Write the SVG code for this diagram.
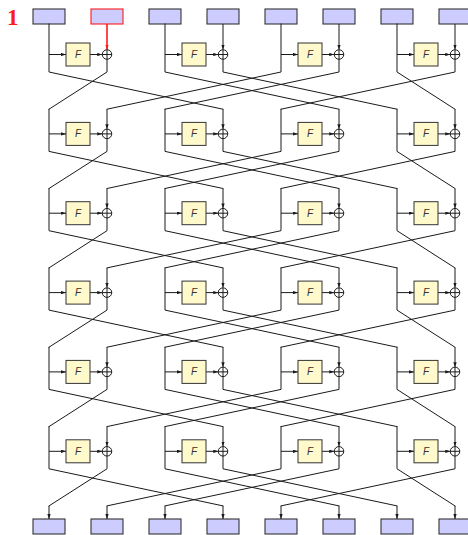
<svg xmlns="http://www.w3.org/2000/svg" width="468" height="535" viewBox="0 0 468 535">
<style>
.blk{fill:#ccccff;stroke:#333;stroke-width:1.1}
.red{fill:#ccccff;stroke:#ff1a1a;stroke-width:1.1}
.fb{fill:#fff9cc;stroke:#333;stroke-width:1}
.ft{font-family:"Liberation Sans",Arial,sans-serif;font-style:italic;font-size:10px;fill:#333;text-anchor:middle}
.w{fill:none;stroke:#1a1a1a;stroke-width:1;stroke-linejoin:round;stroke-linecap:round}
.a{fill:none;stroke:#1a1a1a;stroke-width:1;marker-end:url(#ah)}
.ar{fill:none;stroke:#ff1a1a;stroke-width:1.6;marker-end:url(#ahr)}
.xc{fill:#fff;stroke:#1a1a1a;stroke-width:1}
</style>
<defs>
<marker id="ah" viewBox="0 0 6 4" refX="6" refY="2" markerWidth="5" markerHeight="3.4" markerUnits="userSpaceOnUse" orient="auto"><path d="M0,0L6,2L0,4z" fill="#1a1a1a"/></marker>
<marker id="ahr" viewBox="0 0 6 4" refX="6" refY="2" markerWidth="5" markerHeight="3.6" markerUnits="userSpaceOnUse" orient="auto"><path d="M0,0L6,2L0,4z" fill="#ff1a1a"/></marker>
<g id="xor"><circle class="xc" cx="0" cy="0" r="4.75"/><path d="M-4.75,0H4.75M0,-4.75V4.75" stroke="#1a1a1a" stroke-width="1"/></g>
</defs>

<text x="7" y="25" font-family="'Liberation Serif','Times New Roman',serif" font-weight="bold" font-size="23" fill="#ff1a1a">1</text>

<g id="inputs">
<g id="in0"><rect class="blk" x="33" y="9" width="32" height="15"/></g>
<g id="in1"><rect class="red" x="91" y="9" width="32" height="15"/></g>
<g id="in2"><rect class="blk" x="149" y="9" width="32" height="15"/></g>
<g id="in3"><rect class="blk" x="207" y="9" width="32" height="15"/></g>
<g id="in4"><rect class="blk" x="265" y="9" width="32" height="15"/></g>
<g id="in5"><rect class="blk" x="323" y="9" width="32" height="15"/></g>
<g id="in6"><rect class="blk" x="381" y="9" width="32" height="15"/></g>
<g id="in7"><rect class="blk" x="439" y="9" width="32" height="15"/></g>
</g>

<g id="outputs">
<g id="out0"><rect class="blk" x="33" y="519" width="32" height="15"/></g>
<g id="out1"><rect class="blk" x="91" y="519" width="32" height="15"/></g>
<g id="out2"><rect class="blk" x="149" y="519" width="32" height="15"/></g>
<g id="out3"><rect class="blk" x="207" y="519" width="32" height="15"/></g>
<g id="out4"><rect class="blk" x="265" y="519" width="32" height="15"/></g>
<g id="out5"><rect class="blk" x="323" y="519" width="32" height="15"/></g>
<g id="out6"><rect class="blk" x="381" y="519" width="32" height="15"/></g>
<g id="out7"><rect class="blk" x="439" y="519" width="32" height="15"/></g>
</g>

<g id="connectors">
<!-- round 1 -->
<path class="w" d="M49 24V72L223 109.2M165 24V72L339 109.2M281 24V72L107 109.2M397 24V72L455 109.2"/>
<path class="w" d="M107 59.25V72L49 109.2M223 59.25V72L397 109.2M339 59.25V72L165 109.2M455 59.25V72L281 109.2"/>
<path class="ar" d="M107 24V49.75"/>
<path class="a" d="M223 24V49.75"/><path class="a" d="M339 24V49.75"/><path class="a" d="M455 24V49.75"/>
<path class="a" d="M49 54.5H66"/><path class="a" d="M165 54.5H182"/><path class="a" d="M281 54.5H298"/><path class="a" d="M397 54.5H414"/>
<path class="a" d="M90 54.5H102.25"/><path class="a" d="M206 54.5H218.25"/><path class="a" d="M322 54.5H334.25"/><path class="a" d="M438 54.5H450.25"/>
<!-- round 2 -->
<path class="w" d="M49 109.2V151.4L223 188.5M165 109.2V151.4L339 188.5M281 109.2V151.4L107 188.5M397 109.2V151.4L455 188.5"/>
<path class="w" d="M107 138.65V151.4L49 188.5M223 138.65V151.4L397 188.5M339 138.65V151.4L165 188.5M455 138.65V151.4L281 188.5"/>
<path class="a" d="M107 109.2V129.15"/><path class="a" d="M223 109.2V129.15"/><path class="a" d="M339 109.2V129.15"/><path class="a" d="M455 109.2V129.15"/>
<path class="a" d="M49 133.9H66"/><path class="a" d="M165 133.9H182"/><path class="a" d="M281 133.9H298"/><path class="a" d="M397 133.9H414"/>
<path class="a" d="M90 133.9H102.25"/><path class="a" d="M206 133.9H218.25"/><path class="a" d="M322 133.9H334.25"/><path class="a" d="M438 133.9H450.25"/>
<!-- round 3 -->
<path class="w" d="M49 188.5V230.7L223 267.9M165 188.5V230.7L339 267.9M281 188.5V230.7L107 267.9M397 188.5V230.7L455 267.9"/>
<path class="w" d="M107 217.95V230.7L49 267.9M223 217.95V230.7L397 267.9M339 217.95V230.7L165 267.9M455 217.95V230.7L281 267.9"/>
<path class="a" d="M107 188.5V208.45"/><path class="a" d="M223 188.5V208.45"/><path class="a" d="M339 188.5V208.45"/><path class="a" d="M455 188.5V208.45"/>
<path class="a" d="M49 213.2H66"/><path class="a" d="M165 213.2H182"/><path class="a" d="M281 213.2H298"/><path class="a" d="M397 213.2H414"/>
<path class="a" d="M90 213.2H102.25"/><path class="a" d="M206 213.2H218.25"/><path class="a" d="M322 213.2H334.25"/><path class="a" d="M438 213.2H450.25"/>
<!-- round 4 -->
<path class="w" d="M49 267.9V310.1L223 347.2M165 267.9V310.1L339 347.2M281 267.9V310.1L107 347.2M397 267.9V310.1L455 347.2"/>
<path class="w" d="M107 297.35V310.1L49 347.2M223 297.35V310.1L397 347.2M339 297.35V310.1L165 347.2M455 297.35V310.1L281 347.2"/>
<path class="a" d="M107 267.9V287.85"/><path class="a" d="M223 267.9V287.85"/><path class="a" d="M339 267.9V287.85"/><path class="a" d="M455 267.9V287.85"/>
<path class="a" d="M49 292.6H66"/><path class="a" d="M165 292.6H182"/><path class="a" d="M281 292.6H298"/><path class="a" d="M397 292.6H414"/>
<path class="a" d="M90 292.6H102.25"/><path class="a" d="M206 292.6H218.25"/><path class="a" d="M322 292.6H334.25"/><path class="a" d="M438 292.6H450.25"/>
<!-- round 5 -->
<path class="w" d="M49 347.2V389.4L223 426.6M165 347.2V389.4L339 426.6M281 347.2V389.4L107 426.6M397 347.2V389.4L455 426.6"/>
<path class="w" d="M107 376.65V389.4L49 426.6M223 376.65V389.4L397 426.6M339 376.65V389.4L165 426.6M455 376.65V389.4L281 426.6"/>
<path class="a" d="M107 347.2V367.15"/><path class="a" d="M223 347.2V367.15"/><path class="a" d="M339 347.2V367.15"/><path class="a" d="M455 347.2V367.15"/>
<path class="a" d="M49 371.9H66"/><path class="a" d="M165 371.9H182"/><path class="a" d="M281 371.9H298"/><path class="a" d="M397 371.9H414"/>
<path class="a" d="M90 371.9H102.25"/><path class="a" d="M206 371.9H218.25"/><path class="a" d="M322 371.9H334.25"/><path class="a" d="M438 371.9H450.25"/>
<!-- round 6 -->
<path class="w" d="M49 426.6V468.8L223 505.9M165 426.6V468.8L339 505.9M281 426.6V468.8L107 505.9M397 426.6V468.8L455 505.9"/>
<path class="w" d="M107 456.05V468.8L49 505.9M223 456.05V468.8L397 505.9M339 456.05V468.8L165 505.9M455 456.05V468.8L281 505.9"/>
<path class="a" d="M107 426.6V446.55"/><path class="a" d="M223 426.6V446.55"/><path class="a" d="M339 426.6V446.55"/><path class="a" d="M455 426.6V446.55"/>
<path class="a" d="M49 451.3H66"/><path class="a" d="M165 451.3H182"/><path class="a" d="M281 451.3H298"/><path class="a" d="M397 451.3H414"/>
<path class="a" d="M90 451.3H102.25"/><path class="a" d="M206 451.3H218.25"/><path class="a" d="M322 451.3H334.25"/><path class="a" d="M438 451.3H450.25"/>
<!-- outputs -->
<path class="a" d="M49 505.9V519"/><path class="a" d="M107 505.9V519"/><path class="a" d="M165 505.9V519"/><path class="a" d="M223 505.9V519"/>
<path class="a" d="M281 505.9V519"/><path class="a" d="M339 505.9V519"/><path class="a" d="M397 505.9V519"/><path class="a" d="M455 505.9V519"/>
</g>

<g id="functions">
<g id="f1a"><rect class="fb" x="66" y="43" width="24" height="23"/><text class="ft" x="78" y="58">F</text></g>
<g id="f1b"><rect class="fb" x="182" y="43" width="24" height="23"/><text class="ft" x="194" y="58">F</text></g>
<g id="f1c"><rect class="fb" x="298" y="43" width="24" height="23"/><text class="ft" x="310" y="58">F</text></g>
<g id="f1d"><rect class="fb" x="414" y="43" width="24" height="23"/><text class="ft" x="426" y="58">F</text></g>
<g id="f2a"><rect class="fb" x="66" y="122.4" width="24" height="23"/><text class="ft" x="78" y="137.4">F</text></g>
<g id="f2b"><rect class="fb" x="182" y="122.4" width="24" height="23"/><text class="ft" x="194" y="137.4">F</text></g>
<g id="f2c"><rect class="fb" x="298" y="122.4" width="24" height="23"/><text class="ft" x="310" y="137.4">F</text></g>
<g id="f2d"><rect class="fb" x="414" y="122.4" width="24" height="23"/><text class="ft" x="426" y="137.4">F</text></g>
<g id="f3a"><rect class="fb" x="66" y="201.7" width="24" height="23"/><text class="ft" x="78" y="216.7">F</text></g>
<g id="f3b"><rect class="fb" x="182" y="201.7" width="24" height="23"/><text class="ft" x="194" y="216.7">F</text></g>
<g id="f3c"><rect class="fb" x="298" y="201.7" width="24" height="23"/><text class="ft" x="310" y="216.7">F</text></g>
<g id="f3d"><rect class="fb" x="414" y="201.7" width="24" height="23"/><text class="ft" x="426" y="216.7">F</text></g>
<g id="f4a"><rect class="fb" x="66" y="281.1" width="24" height="23"/><text class="ft" x="78" y="296.1">F</text></g>
<g id="f4b"><rect class="fb" x="182" y="281.1" width="24" height="23"/><text class="ft" x="194" y="296.1">F</text></g>
<g id="f4c"><rect class="fb" x="298" y="281.1" width="24" height="23"/><text class="ft" x="310" y="296.1">F</text></g>
<g id="f4d"><rect class="fb" x="414" y="281.1" width="24" height="23"/><text class="ft" x="426" y="296.1">F</text></g>
<g id="f5a"><rect class="fb" x="66" y="360.4" width="24" height="23"/><text class="ft" x="78" y="375.4">F</text></g>
<g id="f5b"><rect class="fb" x="182" y="360.4" width="24" height="23"/><text class="ft" x="194" y="375.4">F</text></g>
<g id="f5c"><rect class="fb" x="298" y="360.4" width="24" height="23"/><text class="ft" x="310" y="375.4">F</text></g>
<g id="f5d"><rect class="fb" x="414" y="360.4" width="24" height="23"/><text class="ft" x="426" y="375.4">F</text></g>
<g id="f6a"><rect class="fb" x="66" y="439.8" width="24" height="23"/><text class="ft" x="78" y="454.8">F</text></g>
<g id="f6b"><rect class="fb" x="182" y="439.8" width="24" height="23"/><text class="ft" x="194" y="454.8">F</text></g>
<g id="f6c"><rect class="fb" x="298" y="439.8" width="24" height="23"/><text class="ft" x="310" y="454.8">F</text></g>
<g id="f6d"><rect class="fb" x="414" y="439.8" width="24" height="23"/><text class="ft" x="426" y="454.8">F</text></g>
</g>

<g id="xors">
<g id="x1a"><use href="#xor" x="107" y="54.5"/></g><g id="x1b"><use href="#xor" x="223" y="54.5"/></g><g id="x1c"><use href="#xor" x="339" y="54.5"/></g><g id="x1d"><use href="#xor" x="455" y="54.5"/></g>
<g id="x2a"><use href="#xor" x="107" y="133.9"/></g><g id="x2b"><use href="#xor" x="223" y="133.9"/></g><g id="x2c"><use href="#xor" x="339" y="133.9"/></g><g id="x2d"><use href="#xor" x="455" y="133.9"/></g>
<g id="x3a"><use href="#xor" x="107" y="213.2"/></g><g id="x3b"><use href="#xor" x="223" y="213.2"/></g><g id="x3c"><use href="#xor" x="339" y="213.2"/></g><g id="x3d"><use href="#xor" x="455" y="213.2"/></g>
<g id="x4a"><use href="#xor" x="107" y="292.6"/></g><g id="x4b"><use href="#xor" x="223" y="292.6"/></g><g id="x4c"><use href="#xor" x="339" y="292.6"/></g><g id="x4d"><use href="#xor" x="455" y="292.6"/></g>
<g id="x5a"><use href="#xor" x="107" y="371.9"/></g><g id="x5b"><use href="#xor" x="223" y="371.9"/></g><g id="x5c"><use href="#xor" x="339" y="371.9"/></g><g id="x5d"><use href="#xor" x="455" y="371.9"/></g>
<g id="x6a"><use href="#xor" x="107" y="451.3"/></g><g id="x6b"><use href="#xor" x="223" y="451.3"/></g><g id="x6c"><use href="#xor" x="339" y="451.3"/></g><g id="x6d"><use href="#xor" x="455" y="451.3"/></g>
</g>
</svg>
